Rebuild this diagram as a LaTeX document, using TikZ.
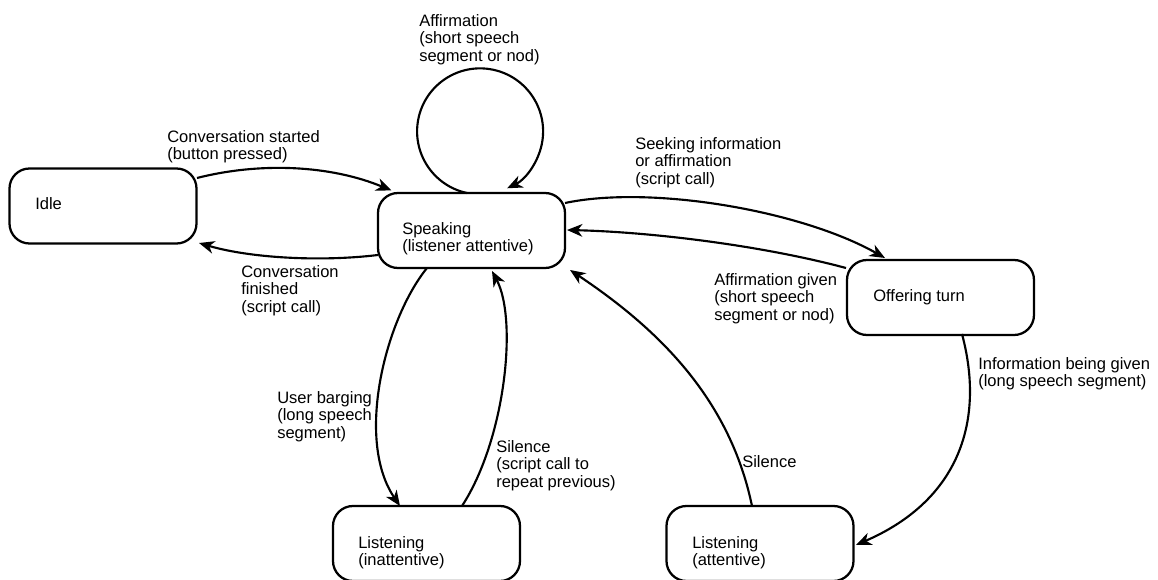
\documentclass[tikz,border=0pt]{standalone}
\usepackage{fontspec}
\setmainfont{Liberation Sans}
\usetikzlibrary{arrows.meta}
\begin{document}
\begin{tikzpicture}[x=0.75pt,y=-0.75pt,
  state/.style={draw, line width=1.7pt, rounded corners=15pt,
    minimum width=140.25pt, minimum height=56.25pt, inner sep=0pt},
  txt/.style={inner sep=0pt, anchor=north west, align=left,
    font=\fontsize{12.4pt}{13.2pt}\selectfont},
  arr/.style={line width=1.6pt,
    -{Stealth[length=11.5pt,width=9.5pt,inset=3.5pt]}}]
\clip (0,0) rectangle (1158,580);
\fill[white] (0,0) rectangle (1158,580);

% states
\node[state] (idle) at (103,206) {};
\node[state] (speaking) at (471.5,230.5) {};
\node[state] (offering) at (940.5,297.5) {};
\node[state] (inatt) at (426.5,543.5) {};
\node[state] (att) at (760,543.5) {};

% state names
\node[txt] (idle-t) at (35,197) {Idle};
\node[txt] (speaking-t) at (402,222) {Speaking\\(listener attentive)};
\node[txt] (offering-t) at (873,289) {Offering turn};
\node[txt] (inatt-t) at (358,536) {Listening\\(inattentive)};
\node[txt] (att-t) at (692,536) {Listening\\(attentive)};

% transitions
\draw[arr] ([shift={(94,-28)}]idle.center)
  .. controls (260,162) and (330,165) .. ([shift={(-80,-40)}]speaking.center);
\draw[arr] ([shift={(-93.5,24.5)}]speaking.center)
  .. controls (320,262) and (250,258) .. ([shift={(96,37)}]idle.center);
\draw[arr] ([shift={(-4.5,-37.5)}]speaking.center)
  arc[start angle=258, end angle=-64.6, radius=47.25pt];
\draw[arr] ([shift={(93.5,-27.5)}]speaking.center)
  .. controls (650,185) and (800,210) .. ([shift={(-55.5,-39.5)}]offering.center);
\draw[arr] ([shift={(-94.5,-29.5)}]offering.center)
  .. controls (760,245) and (650,232) .. ([shift={(95.5,-0.5)}]speaking.center);
\draw[arr] ([shift={(-44.5,37.5)}]speaking.center)
  .. controls (385,320) and (355,440) .. ([shift={(-26.5,-37.5)}]inatt.center);
\draw[arr] ([shift={(35.5,-37.5)}]inatt.center)
  .. controls (505,440) and (518,320) .. ([shift={(20.5,40.5)}]speaking.center);
\draw[arr] ([shift={(-8,-37.5)}]att.center)
  .. controls (730,400) and (660,330) .. ([shift={(98.5,39.5)}]speaking.center);
\draw[arr] ([shift={(21.5,36.5)}]offering.center)
  .. controls (985,420) and (960,500) .. ([shift={(96,1.5)}]att.center);

% transition labels
\node[txt] (l-start) at (167,130) {Conversation started\\(button pressed)};
\node[txt] (l-finish) at (241,265) {Conversation\\finished\\(script call)};
\node[txt] (l-loop) at (419,14) {Affirmation\\(short speech\\segment or nod)};
\node[txt] (l-seek) at (635,137) {Seeking information\\or affirmation\\(script call)};
\node[txt] (l-given) at (714,273) {Affirmation given\\(short speech\\segment or nod)};
\node[txt] (l-info) at (978,357) {Information being given\\(long speech segment)};
\node[txt] (l-barge) at (277,391) {User barging\\(long speech\\segment)};
\node[txt] (l-sil1) at (496,440) {Silence\\(script call to\\repeat previous)};
\node[txt] (l-sil2) at (742,455) {Silence};
\end{tikzpicture}
\end{document}
